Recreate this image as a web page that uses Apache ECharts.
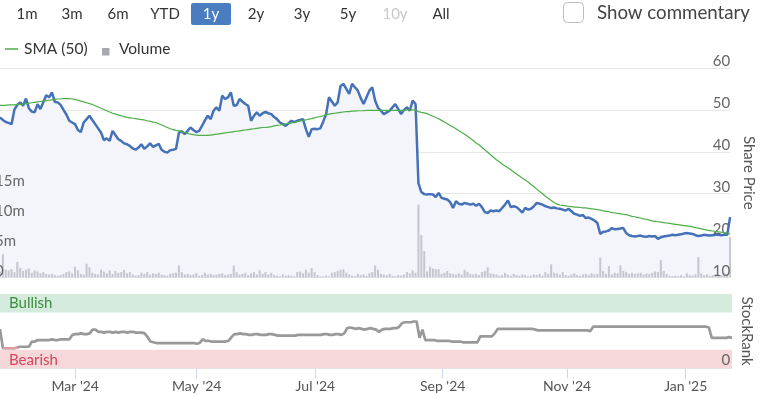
<!DOCTYPE html>
<html><head><meta charset="utf-8">
<script src="https://cdn.jsdelivr.net/npm/echarts/dist/echarts.min.js"></script>
<style>html,body{margin:0;padding:0;background:#fff;overflow:hidden}#c{width:764px;height:394px}</style>
</head><body><div id="c"></div>
<script>
const FONT = 'Lato, "Open Sans", sans-serif';

// ---------- data ----------
const rangeButtons = ['1m','3m','6m','YTD','1y','2y','3y','5y','10y','All'];
const rangeButtonX = [27,72,118,165,211,256,302,348,395,441];
const priceTicks = [10,20,30,40,50,60];
const volumeTicks = [0,5,10,15];
const volumeTickLabels = ['0','5m','10m','15m'];
const rankTicks = [0];
const xTickMonths = ['2024-03','2024-05','2024-07','2024-09','2024-11','2025-01'];
const xTickLabels = ["Mar '24","May '24","Jul '24","Sep '24","Nov '24","Jan '25"];
const marketClosed = ['2024-02-19','2024-03-29','2024-05-27','2024-06-19','2024-07-04','2024-09-02',
  '2024-11-28','2024-12-25','2025-01-01','2025-01-09','2025-01-20'];

const price = [
  48.2,47.6,47.1,46.9,46.6,50.1,51.2,51.8,51.0,52.7,
  50.4,49.6,49.4,51.4,50.2,51.8,53.5,53.0,54.2,51.9,
  51.8,51.2,50.0,48.9,47.4,47.0,46.6,45.2,44.7,47.0,
  47.8,48.6,47.6,46.6,45.6,44.6,42.8,43.2,42.6,45.0,
  44.0,43.0,42.6,42.0,41.8,41.4,40.8,40.5,41.0,41.8,
  40.7,41.3,42.0,41.2,41.5,41.9,40.5,40.0,39.8,40.4,
  40.5,40.7,44.6,44.9,44.2,45.0,45.8,45.2,44.7,45.0,
  46.2,47.5,48.6,47.8,49.8,50.6,49.8,53.4,52.6,53.0,
  54.2,51.0,51.1,52.6,52.0,51.4,51.0,47.4,48.6,49.4,
  48.6,49.2,49.5,49.2,49.0,48.3,47.8,47.0,46.6,46.2,
  46.8,47.4,47.1,47.4,47.6,47.8,45.4,43.6,45.4,45.5,
  45.4,45.6,47.2,49.0,53.0,52.0,51.0,51.8,55.7,56.2,
  55.0,53.8,56.2,55.4,54.6,52.8,51.4,53.0,54.6,55.4,
  52.2,50.5,49.8,49.0,49.4,49.8,50.6,51.4,50.2,49.0,
  50.0,50.6,49.8,52.2,51.4,32.5,30.4,29.9,29.8,29.9,
  29.8,29.2,30.2,29.0,28.8,28.6,28.0,26.6,28.2,27.6,
  27.4,27.8,27.6,27.4,27.6,27.1,27.6,26.8,25.6,25.4,
  26.0,25.8,26.0,25.8,26.6,27.4,28.4,26.8,27.0,26.8,
  26.2,25.5,26.6,26.2,26.4,27.0,27.8,27.6,27.4,27.0,
  26.8,26.6,26.7,26.5,26.4,26.2,26.0,26.4,25.8,25.2,
  25.0,24.7,24.9,24.2,24.3,24.0,23.6,23.0,20.4,20.9,
  21.0,21.2,21.8,21.5,21.6,21.7,21.8,20.6,20.1,19.9,
  19.8,19.9,20.0,19.8,19.7,19.9,19.8,19.9,19.2,19.6,
  19.8,19.9,20.0,20.2,20.1,20.2,20.3,20.5,20.6,20.5,
  20.4,20.1,19.9,20.0,20.2,20.1,20.0,20.1,20.2,20.2,
  20.1,20.2,20.2,24.4
];

const sma50 = [
  51.1,51.1,51.1,51.2,51.2,51.2,51.3,51.3,51.4,51.5,
  51.6,51.7,51.8,51.9,52.0,52.1,52.2,52.3,52.4,52.5,
  52.6,52.6,52.7,52.7,52.7,52.6,52.5,52.3,52.1,51.9,
  51.7,51.5,51.3,51.0,50.7,50.4,50.1,49.8,49.5,49.2,
  49.0,48.8,48.6,48.4,48.2,48.1,48.0,47.9,47.8,47.7,
  47.6,47.4,47.3,47.1,47.0,46.7,46.4,46.1,45.8,45.5,
  45.3,45.1,45.0,44.8,44.6,44.4,44.2,44.1,44.0,43.9,
  43.9,43.9,43.9,44.0,44.1,44.2,44.3,44.4,44.5,44.6,
  44.7,44.8,44.9,45.0,45.1,45.2,45.3,45.4,45.5,45.6,
  45.7,45.8,45.8,45.9,46.0,46.2,46.3,46.4,46.6,46.7,
  46.8,46.9,47.0,47.2,47.4,47.5,47.6,47.8,47.9,48.1,
  48.3,48.4,48.6,48.8,49.0,49.1,49.2,49.3,49.4,49.5,
  49.6,49.6,49.7,49.7,49.8,49.8,49.8,49.9,49.9,49.9,
  49.9,49.9,49.9,49.9,49.9,49.9,49.9,49.9,49.9,49.9,
  49.9,50.0,50.0,50.0,49.9,49.6,49.4,49.3,49.1,48.8,
  48.5,48.2,47.9,47.5,47.1,46.7,46.3,45.9,45.5,45.0,
  44.6,44.2,43.7,43.2,42.7,42.1,41.7,41.1,40.5,39.9,
  39.3,38.7,38.1,37.6,37.1,36.6,36.2,35.7,35.2,34.7,
  34.2,33.7,33.3,32.8,32.2,31.7,31.1,30.5,30.0,29.4,
  28.9,28.4,27.9,27.5,27.3,27.2,27.1,27.0,26.9,26.8,
  26.8,26.7,26.6,26.6,26.5,26.4,26.3,26.2,26.1,25.9,
  25.8,25.7,25.5,25.4,25.3,25.2,25.1,25.0,24.8,24.6,
  24.5,24.3,24.2,24.0,23.9,23.7,23.5,23.4,23.3,23.2,
  23.1,23.0,22.9,22.8,22.7,22.6,22.5,22.4,22.3,22.2,
  22.1,21.9,21.8,21.6,21.5,21.3,21.2,21.1,21.0,20.9,
  20.8,20.7,20.5,20.4
];

// volume in millions of shares
const volume = [
  1.0,3.9,1.3,1.2,1.4,0.9,2.6,1.6,1.1,1.3,
  1.5,0.8,1.2,1.0,0.7,0.9,0.6,0.5,0.6,0.4,
  0.3,0.4,0.6,0.9,1.0,0.7,1.8,1.2,0.6,0.5,
  2.3,1.7,0.8,0.6,0.5,1.3,1.0,0.7,1.2,0.6,
  1.1,0.8,0.9,1.3,0.7,0.9,0.5,0.3,0.4,0.8,
  0.6,0.9,0.5,0.7,0.6,0.8,0.5,0.4,0.3,0.6,
  0.7,0.8,2.0,0.9,0.5,0.6,0.4,0.5,0.7,0.3,
  0.4,0.8,0.5,0.6,0.4,0.5,0.6,0.7,0.4,0.5,
  0.6,2.0,0.9,0.5,0.6,0.8,0.4,0.7,0.9,0.5,
  1.2,0.6,0.9,0.5,0.8,0.4,0.3,0.2,0.5,0.3,
  0.4,0.3,0.2,0.9,1.0,0.7,1.3,0.8,1.6,0.9,
  0.4,0.2,0.2,0.3,0.2,0.8,0.9,1.1,1.3,1.4,
  0.8,0.5,0.3,0.2,0.6,0.4,0.5,0.3,0.7,0.9,
  2.0,1.3,0.6,0.5,0.4,0.6,0.3,0.2,0.4,0.3,
  0.5,0.9,0.7,1.2,0.8,12.2,7.1,4.4,1.0,1.8,
  1.5,1.4,1.4,0.6,0.8,1.1,0.7,0.6,0.5,0.7,
  0.5,1.3,0.9,0.6,0.5,0.6,0.4,0.9,1.1,1.7,
  0.7,0.6,0.5,0.3,0.4,0.8,0.5,0.3,0.6,0.4,
  0.3,0.5,0.4,0.2,0.3,0.5,0.4,0.6,0.3,0.9,
  0.6,2.2,0.8,0.7,0.5,0.9,0.4,0.3,0.5,0.7,
  0.4,0.3,0.5,0.6,0.4,0.7,0.5,0.6,3.3,1.1,
  0.6,1.9,0.5,0.8,0.7,2.0,1.1,0.9,0.6,0.8,
  0.6,0.7,0.8,0.5,0.7,0.6,0.8,1.0,0.9,2.9,
  1.1,0.6,0.3,0.2,0.3,0.2,0.4,0.2,0.7,0.4,
  0.3,0.5,3.4,0.7,0.4,0.5,0.3,0.4,0.6,0.5,
  0.4,0.7,0.6,6.7
];

const stockRank = [
  53,27,27,27,27,27,28,29,29,29,
  29,36,36,38,38,38,38,38,39,38,
  38,39,39,39,39,45,46,46,47,46,
  46,47,52,52,49,49,48,49,49,48,
  49,48,49,49,48,49,49,48,48,48,
  47,42,36,35,34,34,34,34,34,34,
  34,34,34,34,34,34,34,34,33,34,
  39,37,37,36,36,36,36,36,36,37,
  42,46,46,47,46,46,45,45,46,46,
  45,45,45,46,46,45,44,44,44,44,
  44,44,44,45,45,45,45,45,45,45,
  45,45,46,46,45,45,46,46,45,47,
  54,55,54,53,54,53,52,53,54,53,
  52,49,52,53,53,53,54,54,56,61,
  62,62,62,63,63,41,52,38,38,38,
  38,37,37,37,37,37,36,36,36,36,
  35,35,35,35,35,35,43,43,43,43,
  43,47,53,53,53,53,53,53,53,53,
  53,53,53,53,53,52,51,51,51,51,
  51,51,51,51,51,51,51,51,51,51,
  51,51,51,51,50,56,56,56,56,56,
  56,56,56,56,56,56,56,56,56,56,
  56,56,56,56,56,56,56,56,56,56,
  56,56,56,56,56,56,56,56,56,56,
  56,56,56,56,56,55,41,41,41,41,
  41,41,42,41
];
const bullishBand = [75, 100];
const bearishBand = [0, 25];

// ---------- helpers ----------
function buildTradingDays(start, end, closed) {
  const out = [];
  const d = new Date(start + 'T00:00:00Z');
  const e = new Date(end + 'T00:00:00Z');
  while (d <= e) {
    const wd = d.getUTCDay();
    const s = d.toISOString().slice(0, 10);
    if (wd !== 0 && wd !== 6 && closed.indexOf(s) < 0) out.push(s);
    d.setUTCDate(d.getUTCDate() + 1);
  }
  return out;
}
const dates = buildTradingDays('2024-01-24', '2025-01-28', marketClosed);
function tickIdx(i) {
  if (i === 0) return false;
  const m = dates[i].slice(0, 7);
  return m !== dates[i - 1].slice(0, 7) && xTickMonths.indexOf(m) >= 0;
}
const lowRank = stockRank.map(v => v < 28.5 ? v : '-');

const chart = echarts.init(document.getElementById('c'), null, {renderer: 'canvas'});
const axisTxt = {color: '#666', fontSize: 15, fontFamily: FONT};

const graphics = [];
rangeButtons.forEach((b, i) => {
  if (b === '1y') {
    graphics.push({type: 'rect', shape: {x: rangeButtonX[i] - 20, y: 3, width: 40, height: 22, r: 2}, style: {fill: '#4a7cc0'}});
  }
  graphics.push({type: 'text', x: rangeButtonX[i], y: 14, style: {text: b, fontSize: 15, fontFamily: FONT,
    fill: b === '1y' ? '#fff' : (b === '10y' ? '#c8c8c8' : '#333'), align: 'center', verticalAlign: 'middle'}});
});
graphics.push({type: 'rect', shape: {x: 563.5, y: 2.5, width: 20, height: 20, r: 4}, style: {fill: '#fff', stroke: '#bdbdbd', lineWidth: 1}});
graphics.push({type: 'text', x: 597, y: 13, style: {text: 'Show commentary', fontSize: 18.7, fontFamily: FONT, fill: '#444', align: 'left', verticalAlign: 'middle'}});
graphics.push({type: 'line', shape: {x1: 5, y1: 49, x2: 18, y2: 49}, style: {stroke: '#4caf50', lineWidth: 1.5}});
graphics.push({type: 'text', x: 24, y: 49, style: {text: 'SMA (50)', fontSize: 15.5, fontFamily: FONT, fill: '#333', align: 'left', verticalAlign: 'middle'}});
graphics.push({type: 'rect', shape: {x: 102, y: 48, width: 7.5, height: 7.5}, style: {fill: '#a7a8b0'}});
graphics.push({type: 'text', x: 119, y: 49, style: {text: 'Volume', fontSize: 15.5, fontFamily: FONT, fill: '#333', align: 'left', verticalAlign: 'middle'}});

const option = {
  animation: false,
  textStyle: {fontFamily: FONT},
  graphic: graphics,
  grid: [
    {left: 0, right: 32, top: 68, height: 209.5, containLabel: false},
    {left: 0, right: 32, top: 294, height: 74.3, containLabel: false}
  ],
  xAxis: [
    {type: 'category', gridIndex: 0, data: dates, boundaryGap: false,
     axisLine: {show: false}, axisTick: {show: false}, axisLabel: {show: false}, splitLine: {show: false}},
    {type: 'category', gridIndex: 1, data: dates, boundaryGap: false,
     axisLine: {show: false},
     axisTick: {show: true, interval: tickIdx, length: 10, lineStyle: {color: '#ccd6eb'}},
     axisLabel: {interval: tickIdx, margin: 11, color: '#555', fontSize: 14, fontFamily: FONT,
       formatter: (v) => xTickLabels[xTickMonths.indexOf(v.slice(0, 7))] || ''},
     splitLine: {show: false}}
  ],
  yAxis: [
    {type: 'value', gridIndex: 0, position: 'right', min: priceTicks[0], max: priceTicks[priceTicks.length - 1], interval: 10,
     axisLine: {show: false}, axisTick: {show: false},
     axisLabel: Object.assign({inside: true, margin: 0, verticalAlign: 'bottom', padding: [0, 0, -1, 0]}, axisTxt),
     splitLine: {lineStyle: {color: '#e6e6e6'}},
     name: 'Share Price', nameLocation: 'middle', nameRotate: -90, nameGap: 7,
     nameTextStyle: {color: '#555', fontSize: 15, fontFamily: FONT}},
    {type: 'value', gridIndex: 0, position: 'left', min: 0, max: 35, interval: 5,
     axisLine: {show: false}, axisTick: {show: false}, splitLine: {show: false}, axisLabel: {show: false}},
    {type: 'value', gridIndex: 1, position: 'right', min: 0, max: 100, interval: 100,
     axisLine: {show: false}, axisTick: {show: false}, axisLabel: {show: false},
     splitLine: {lineStyle: {color: '#e6e6e6'}},
     name: 'StockRank', nameLocation: 'middle', nameRotate: -90, nameGap: 7,
     nameTextStyle: {color: '#555', fontSize: 15, fontFamily: FONT}}
  ],
  series: [
    {type: 'line', name: 'area', xAxisIndex: 0, yAxisIndex: 0, data: price, symbol: 'none', z: 1,
     lineStyle: {width: 0}, areaStyle: {color: '#f3f5fa', opacity: 1, origin: 'start'}, silent: true},
    {type: 'bar', name: 'Volume', xAxisIndex: 0, yAxisIndex: 1, data: volume, barWidth: 2, z: 2,
     itemStyle: {color: '#c5c6ce'}},
    {type: 'line', name: 'Price', xAxisIndex: 0, yAxisIndex: 0, data: price, symbol: 'none', z: 3,
     lineStyle: {color: '#4571b8', width: 2.5}},
    {type: 'line', name: 'SMA (50)', xAxisIndex: 0, yAxisIndex: 0, data: sma50, symbol: 'none', z: 4,
     lineStyle: {color: '#4cae47', width: 1.2}},
    {type: 'line', name: 'StockRank', xAxisIndex: 1, yAxisIndex: 2, data: stockRank, symbol: 'none', z: 3,
     lineStyle: {color: '#999', width: 2.7},
     markArea: {silent: true, data: [
       [{yAxis: bullishBand[0], itemStyle: {color: '#d4ebdd'}, label: {show: true, position: 'insideLeft', formatter: 'Bullish', color: '#3e8e41', fontSize: 15, fontFamily: FONT, offset: [4, 0]}}, {yAxis: bullishBand[1]}],
       [{yAxis: bearishBand[0], itemStyle: {color: '#f6d8db'}, label: {show: true, position: 'insideLeft', formatter: 'Bearish', color: '#d6455b', fontSize: 15, fontFamily: FONT, offset: [4, 1]}}, {yAxis: bearishBand[1]}]
     ]}},
    {type: 'line', name: 'lowRank', xAxisIndex: 1, yAxisIndex: 2, data: lowRank, symbol: 'none', z: 4,
     lineStyle: {color: '#e89aa5', width: 2}}
  ]
};
chart.setOption(option);

// Tick labels the axis hides at its edges: placed through the axes' own scales
const extra = [];
const rightX = chart.convertToPixel({xAxisIndex: 0}, dates[dates.length - 1]);
volumeTicks.forEach((v, i) => {
  const y = chart.convertToPixel({yAxisIndex: 1}, v);
  extra.push({type: 'text', x: -5, y: y + 1, z: 50, style: {text: volumeTickLabels[i], fontSize: 15, fontFamily: FONT,
    fill: '#666', align: 'left', verticalAlign: 'bottom'}});
});
extra.push({type: 'text', x: rightX, y: chart.convertToPixel({yAxisIndex: 0}, priceTicks[0]) + 1, z: 50,
  style: {text: String(priceTicks[0]), fontSize: 15, fontFamily: FONT, fill: '#666', align: 'right', verticalAlign: 'bottom'}});
rankTicks.forEach(v => {
  extra.push({type: 'text', x: rightX, y: chart.convertToPixel({yAxisIndex: 2}, v) - 1, z: 50,
    style: {text: String(v), fontSize: 15, fontFamily: FONT, fill: '#666', align: 'right', verticalAlign: 'bottom'}});
});
chart.setOption({graphic: graphics.concat(extra)});
</script></body></html>
